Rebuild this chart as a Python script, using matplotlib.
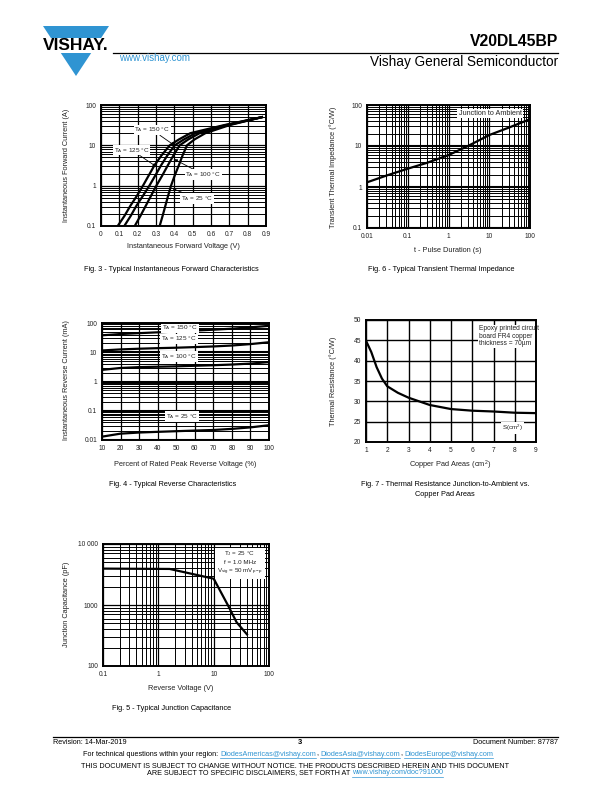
import matplotlib
matplotlib.use("Agg")
import matplotlib.pyplot as plt
import numpy as np
from matplotlib.ticker import FixedLocator, FixedFormatter, NullFormatter, LogLocator
from matplotlib.patches import Polygon, Rectangle
from matplotlib.lines import Line2D

plt.rcParams['font.family'] = ['Liberation Sans', 'DejaVu Sans']

W, H = 612, 792

# ---- Fig. 3 forward characteristics (A vs V)
if_levels = [0.1, 0.178, 0.316, 0.562, 1, 1.78, 3.16, 5.62, 10, 14, 20, 31.6, 50]
vf_150 = [0.091, 0.128, 0.160, 0.196, 0.229, 0.260, 0.291, 0.330, 0.375, 0.425, 0.487, 0.670, 0.878]
vf_125 = [0.127, 0.162, 0.193, 0.229, 0.264, 0.296, 0.327, 0.362, 0.402, 0.452, 0.515, 0.680, 0.878]
vf_100 = [0.184, 0.215, 0.244, 0.273, 0.302, 0.334, 0.364, 0.395, 0.429, 0.476, 0.538, 0.690, 0.878]
vf_25 = [0.320, 0.336, 0.351, 0.366, 0.382, 0.402, 0.424, 0.445, 0.469, 0.510, 0.569, 0.700, 0.878]
fig3_xticks = [0, 0.1, 0.2, 0.3, 0.4, 0.5, 0.6, 0.7, 0.8, 0.9]
fig3_xlabels = ["0", "0.1", "0.2", "0.3", "0.4", "0.5", "0.6", "0.7", "0.8", "0.9"]

# ---- Fig. 6 transient thermal impedance
t_pulse = [0.01, 0.03, 0.1, 0.3, 1, 3, 10, 30, 100]
zth = [1.3, 1.9, 2.8, 3.9, 6.0, 10, 18.5, 28, 45]

# ---- Fig. 4 reverse characteristics (mA vs % VRRM)
pct = [10, 20, 30, 40, 50, 60, 70, 80, 90, 100]
ir_150 = [38, 42, 45, 48, 51, 55, 59, 64, 71, 80]
ir_125 = [11.5, 12.5, 13.2, 13.8, 14.3, 15.0, 15.8, 17.0, 19.0, 22.0]
ir_100 = [2.5, 2.9, 3.1, 3.2, 3.3, 3.45, 3.6, 3.8, 4.1, 4.6]
ir_25 = [0.013, 0.0165, 0.018, 0.019, 0.020, 0.021, 0.022, 0.024, 0.027, 0.032]

# ---- Fig. 7 thermal resistance vs copper pad area
pad_area = [1, 1.25, 1.5, 1.75, 2, 2.5, 3, 4, 5, 6, 7, 8, 9]
rth = [44.9, 42.1, 38.4, 35.6, 33.7, 32.1, 30.9, 29.1, 28.1, 27.7, 27.5, 27.2, 27.1]

# ---- Fig. 5 junction capacitance
vr = [0.1, 1.6, 10, 18, 26, 40]
cj = [3950, 3900, 2700, 1000, 520, 330]

TXT = '#222222'
BLUE = '#2f94d2'


def box(l, t, r, b):
    return [l / W, 1 - b / H, (r - l) / W, (b - t) / H]


def px(x, y):
    return x / W, 1 - y / H


def style(ax):
    for s in ax.spines.values():
        s.set_linewidth(1.4)
        s.set_zorder(5)
    ax.tick_params(which='both', length=0, labelsize=4.8, pad=3.5, colors=TXT)
    ax.grid(which='major', color='black', lw=0.9)
    ax.grid(which='minor', color='black', lw=0.7)


def log_y(ax, ticks, labels):
    ax.set_yscale('log')
    ax.yaxis.set_major_locator(FixedLocator(ticks))
    ax.yaxis.set_major_formatter(FixedFormatter(labels))
    ax.yaxis.set_minor_locator(LogLocator(base=10, subs=np.arange(2, 10), numticks=30))
    ax.yaxis.set_minor_formatter(NullFormatter())


def log_x(ax, ticks, labels):
    ax.set_xscale('log')
    ax.xaxis.set_major_locator(FixedLocator(ticks))
    ax.xaxis.set_major_formatter(FixedFormatter(labels))
    ax.xaxis.set_minor_locator(LogLocator(base=10, subs=np.arange(2, 10), numticks=30))
    ax.xaxis.set_minor_formatter(NullFormatter())


fig = plt.figure(figsize=(6.12, 7.92), dpi=100)

lab = dict(fontsize=4.6, color=TXT, ha='center', va='center',
           bbox=dict(fc='white', ec='none', pad=0.6))
arr = dict(arrowstyle='-|>', lw=0.6, color='black', mutation_scale=4, shrinkA=0, shrinkB=0)

# Fig. 3
ax3 = fig.add_axes(box(101, 105, 266, 226))
for v in (vf_150, vf_125, vf_100, vf_25):
    ax3.plot(v, if_levels, color='black', lw=1.6)
ax3.set_xlim(0, 0.9)
ax3.set_ylim(0.1, 100)
ax3.set_xticks(fig3_xticks)
ax3.set_xticklabels(fig3_xlabels)
ax3.xaxis.set_minor_locator(FixedLocator([]))
log_y(ax3, [0.1, 1, 10, 100], ["0.1", "1", "10", "100"])
style(ax3)
ax3.annotate(r"T$_\mathregular{A}$ = 150 °C", xy=(0.40, 10), xytext=(0.28, 24),
             arrowprops=arr, **lab)
ax3.annotate(r"T$_\mathregular{A}$ = 125 °C", xy=(0.30, 3.0), xytext=(0.168, 7.6),
             arrowprops=arr, **lab)
ax3.annotate(r"T$_\mathregular{A}$ = 100 °C", xy=(0.40, 4.5), xytext=(0.558, 1.9),
             arrowprops=arr, **lab)
ax3.annotate(r"T$_\mathregular{A}$ = 25 °C", xy=(0.39, 0.85), xytext=(0.525, 0.48),
             arrowprops=arr, **lab)

# Fig. 6
ax6 = fig.add_axes(box(367, 105, 530, 228))
ax6.plot(t_pulse, zth, color='black', lw=1.6)
ax6.set_xlim(0.01, 100)
ax6.set_ylim(0.1, 100)
log_x(ax6, [0.01, 0.1, 1, 10, 100], ["0.01", "0.1", "1", "10", "100"])
log_y(ax6, [0.1, 1, 10, 100], ["0.1", "1", "10", "100"])
style(ax6)
ax6.grid(which='major', axis='y', color='black', lw=1.5)
ax6.text(0.755, 0.929, "Junction to Ambient", transform=ax6.transAxes,
         fontsize=5.2, color=TXT, ha='center', va='center',
         bbox=dict(fc='white', ec='none', pad=0.8))

# Fig. 4
ax4 = fig.add_axes(box(102, 323, 269, 440))
for ir in (ir_150, ir_125, ir_100, ir_25):
    ax4.plot(pct, ir, color='black', lw=1.6)
ax4.set_xlim(10, 100)
ax4.set_ylim(0.01, 100)
ax4.set_xticks(pct)
log_y(ax4, [0.01, 0.1, 1, 10, 100], ["0.01", "0.1", "1", "10", "100"])
style(ax4)
ax4.grid(which='major', axis='y', color='black', lw=1.5)
for txt, xf, yf in ((r"T$_\mathregular{A}$ = 150 °C", 0.467, 0.962),
                    (r"T$_\mathregular{A}$ = 125 °C", 0.461, 0.865),
                    (r"T$_\mathregular{A}$ = 100 °C", 0.461, 0.712),
                    (r"T$_\mathregular{A}$ = 25 °C", 0.479, 0.201)):
    ax4.text(xf, yf, txt, transform=ax4.transAxes, **lab)

# Fig. 7
ax7 = fig.add_axes(box(366, 320, 536, 442))
ax7.plot(pad_area, rth, color='black', lw=1.6)
ax7.set_xlim(1, 9)
ax7.set_ylim(20, 50)
ax7.set_xticks(range(1, 10))
ax7.set_yticks(range(20, 51, 5))
style(ax7)
ax7.grid(which='major', color='black', lw=1.0)
ax7.text(0.662, 0.955, "Epoxy printed circuit\nboard FR4 copper\nthickness = 70µm",
         transform=ax7.transAxes, fontsize=4.8, color=TXT, ha='left', va='top',
         linespacing=1.1, bbox=dict(fc='white', ec='none', pad=0.5))
ax7.text(0.861, 0.113, r"S(cm$^\mathregular{2}$)", transform=ax7.transAxes,
         fontsize=4.5, color=TXT, ha='center', va='center',
         bbox=dict(fc='white', ec='none', pad=0.5))

# Fig. 5
ax5 = fig.add_axes(box(103, 544, 269, 666))
ax5.plot(vr, cj, color='black', lw=1.6)
ax5.set_xlim(0.1, 100)
ax5.set_ylim(100, 10000)
log_x(ax5, [0.1, 1, 10, 100], ["0.1", "1", "10", "100"])
log_y(ax5, [100, 1000, 10000], ["100", "1000", "10 000"])
style(ax5)
ax5.text(0.824, 0.843,
         "T$_\\mathregular{J}$ = 25 °C\nf = 1.0 MHz\nV$_\\mathregular{sig}$ = 50 mV$_\\mathregular{p-p}$",
         transform=ax5.transAxes, fontsize=4.5, color=TXT, ha='center', va='center',
         linespacing=1.3, bbox=dict(fc='white', ec='none', pad=1.5))

# axis titles and captions
def ftxt(x, y, s, size=5.3, rot=0, ha='center', **kw):
    fx, fy = px(x, y)
    return fig.text(fx, fy, s, fontsize=size, rotation=rot, ha=ha, va='center',
                    color=kw.pop('color', TXT), **kw)

ftxt(183, 246, "Instantaneous Forward Voltage (V)")
ftxt(66, 165, "Instantaneous Forward Current (A)", rot=90)
ftxt(448, 251, "t - Pulse Duration (s)")
ftxt(333, 167, "Transient Thermal Impedance (°C/W)", rot=90)
ftxt(185, 464, "Percent of Rated Peak Reverse Voltage (%)")
ftxt(66, 380, "Instantaneous Reverse Current (mA)", rot=90)
ftxt(450, 465, r"Copper Pad Areas (cm$^\mathregular{2}$)")
ftxt(333, 381, "Thermal Resistance (°C/W)", rot=90)
ftxt(181, 688, "Reverse Voltage (V)")
ftxt(66, 604, "Junction Capacitance (pF)", rot=90)

ftxt(171, 270, "Fig. 3 - Typical Instantaneous Forward Characteristics", color='black')
ftxt(441, 270, "Fig. 6 - Typical Transient Thermal Impedance", color='black')
ftxt(173, 485, "Fig. 4 - Typical Reverse Characteristics", color='black')
ftxt(445, 485, "Fig. 7 - Thermal Resistance Junction-to-Ambient vs.", color='black')
ftxt(445, 494, "Copper Pad Areas", color='black')
ftxt(172, 708, "Fig. 5 - Typical Junction Capacitance", color='black')

# header
tri = Polygon([px(43, 26), px(109, 26), px(76, 76)], closed=True, fc=BLUE, ec='none',
              transform=fig.transFigure)
fig.patches.append(tri)
fig.patches.append(Rectangle(px(38, 53), 76 / W, 15 / H, fc='white', ec='none',
                             transform=fig.transFigure))
ftxt(76, 46, "VISHAY.", size=12.5, color='black', weight='bold')
fig.add_artist(Line2D([113 / W, 558 / W], [1 - 53 / H, 1 - 53 / H], color='black', lw=0.9))
ftxt(558, 41, "V20DL45BP", size=11.3, ha='right', color='black', weight='bold')
ftxt(119, 58, "www.vishay.com", size=7.0, ha='left', color=BLUE)
ftxt(558, 62, "Vishay General Semiconductor", size=9.8, ha='right', color='black')

# footer
fig.add_artist(Line2D([53 / W, 558 / W], [1 - 737 / H, 1 - 737 / H], color='black', lw=0.9))
ftxt(53, 742, "Revision: 14-Mar-2019", size=5.2, ha='left', color='black')
ftxt(300, 743, "3", size=5.4, color='black', weight='bold')
ftxt(558, 742, "Document Number: 87787", size=5.2, ha='right', color='black')

r = fig.canvas.get_renderer()


def run_line(parts, xc, y, size=5.2):
    objs = []
    total = 0
    for s, c, link, gap in parts:
        t = ftxt(0, y, s, size=size, ha='left', color=c)
        w = t.get_window_extent(r).width
        objs.append((t, w, link, gap))
        total += w + gap
    x = xc - total / 2
    for t, w, link, gap in objs:
        t.set_x(x / W)
        if link:
            yy = 1 - (y + 3.6) / H
            fig.add_artist(Line2D([x / W, (x + w) / W], [yy, yy], color=BLUE, lw=0.5))
        x += w + gap


run_line([("For technical questions within your region:", 'black', False, 2.2),
          ("DiodesAmericas@vishay.com", BLUE, True, 0),
          (",", 'black', False, 2.2),
          ("DiodesAsia@vishay.com", BLUE, True, 0),
          (",", 'black', False, 2.2),
          ("DiodesEurope@vishay.com", BLUE, True, 0)], 288, 754)
ftxt(295, 766, "THIS DOCUMENT IS SUBJECT TO CHANGE WITHOUT NOTICE. THE PRODUCTS DESCRIBED HEREIN AND THIS DOCUMENT",
     size=5.2, color='black')
run_line([("ARE SUBJECT TO SPECIFIC DISCLAIMERS, SET FORTH AT", 'black', False, 2.2),
          ("www.vishay.com/doc?91000", BLUE, True, 0)], 295, 773)

fig.savefig("out.png", dpi=100)
